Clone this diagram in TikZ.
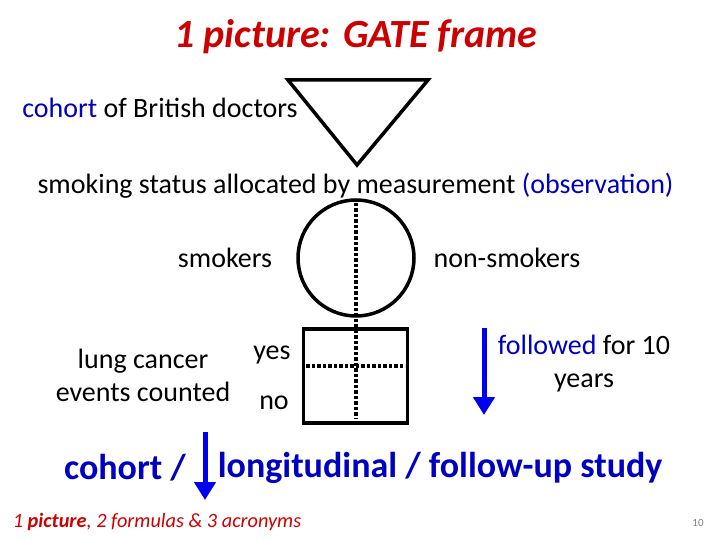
\documentclass[tikz,border=0pt]{standalone}
\usepackage{fontspec}
\setmainfont{Carlito}
\usetikzlibrary{arrows.meta}
\definecolor{tred}{RGB}{204,0,0}
\definecolor{tblue}{RGB}{0,0,192}
\definecolor{ablue}{RGB}{0,0,240}
\begin{document}
\begin{tikzpicture}[x=1pt,y=-1pt,
  thickline/.style={line width=3.5pt},
  dots/.style={line width=3.5pt,dash pattern=on 3.5pt off 2pt},
  txt/.style={font=\fontsize{28}{33}\selectfont,inner sep=0pt},
  big/.style={font=\fontsize{36}{40}\selectfont\bfseries,text=tblue,inner sep=0pt},
  barrow/.style={ablue,line width=5pt,-{Triangle[width=21pt,length=18pt]}}]
\useasboundingbox (0,0) rectangle (720,540);
\node[font=\fontsize{40}{46}\selectfont\bfseries\itshape,text=tred,inner sep=0pt] (title) at (356,37) {1 picture: GATE frame};
\node[txt] (cohort) at (160,108) {\textcolor{tblue}{cohort} of British doctors};
\coordinate (tl) at (288,80);
\coordinate (tr) at (428,80);
\coordinate (tb) at (357,165);
\draw[thickline,line join=miter] (tl) -- (tr) -- (tb) -- cycle;
\node[txt] (smoking) at (355.5,186) {smoking status allocated by measurement \textcolor{tblue}{(observation)}};
\node[draw,circle,thickline,minimum size=116pt,inner sep=0pt] (circ) at (356,258) {};
\node[draw,thickline,minimum width=104pt,minimum height=94pt,inner sep=0pt] (sq) at (355.5,376) {};
\coordinate (vt) at (356,203);
\coordinate (vb) at (356,419);
\draw[dots] (vt) -- (vb);
\coordinate (hl) at (306,366);
\coordinate (hr) at (405,366);
\draw[dots] (hl) -- (hr);
\node[txt] (smokers) at (225,258) {smokers};
\node[txt] (nonsmokers) at (507,258) {non-smokers};
\node[txt] (yes) at (272,355) {yes};
\node[txt] (no) at (274,403) {no};
\node[txt,align=center] (lung) at (143,375) {lung cancer\\events counted};
\coordinate (a1s) at (484,328);
\coordinate (a1e) at (484,415);
\draw[barrow] (a1s) -- (a1e);
\node[txt,align=center] (followed) at (584,364) {\textcolor{tblue}{followed} for 10\\years};
\node[big] (cohort2) at (125,468) {cohort /};
\node[big] (longi) at (440,468) {longitudinal / follow-up study};
\coordinate (a2s) at (205,432);
\coordinate (a2e) at (205,500);
\draw[barrow] (a2s) -- (a2e);
\node[font=\fontsize{20.3}{24}\selectfont\itshape,text=tred,inner sep=0pt] (foot) at (157,522) {1 \textbf{picture}, 2 formulas \& 3 acronyms};
\node[font=\fontsize{11}{13}\selectfont,text=gray,inner sep=0pt] (page) at (698,523) {10};
\end{tikzpicture}
\end{document}
